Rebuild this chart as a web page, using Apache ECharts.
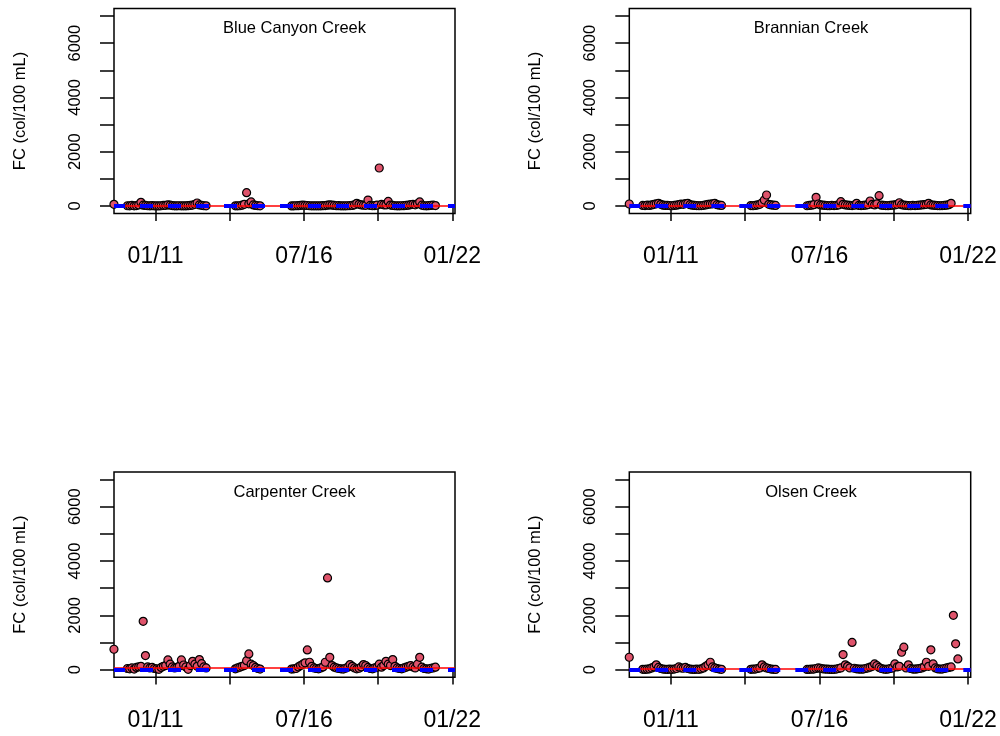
<!DOCTYPE html>
<html><head><meta charset="utf-8">
<script src="https://cdn.jsdelivr.net/npm/echarts@6/dist/echarts.min.js"></script>
<style>html,body{margin:0;padding:0;background:#fff}#c{width:1000px;height:736px}</style>
</head><body><div id="c"></div><script>
// sample months (YYYY-MM), shared by all four creeks
const sampleMonths = [
 '2009-06',
 '2009-12',
 '2010-01','2010-02','2010-03','2010-04','2010-05','2010-06','2010-07','2010-08','2010-09','2010-10','2010-11','2010-12',
 '2011-01','2011-02','2011-03','2011-04','2011-05','2011-06','2011-07','2011-08','2011-09','2011-10','2011-11','2011-12',
 '2012-01','2012-02','2012-03','2012-04','2012-05','2012-06','2012-07','2012-08','2012-09','2012-10','2012-11',
 '2013-12',
 '2014-01','2014-02','2014-03','2014-04','2014-05','2014-06','2014-07','2014-08','2014-09','2014-10','2014-11',
 '2016-01','2016-02','2016-03','2016-04','2016-05','2016-06','2016-07','2016-08','2016-09','2016-10','2016-11','2016-12',
 '2017-01','2017-02','2017-03','2017-04','2017-05','2017-06','2017-07','2017-08','2017-09','2017-10','2017-11','2017-12',
 '2018-01','2018-02','2018-03','2018-04','2018-05','2018-06','2018-07','2018-08','2018-09','2018-10','2018-11','2018-12',
 '2019-01','2019-02','2019-03','2019-04','2019-05','2019-06','2019-07','2019-08','2019-09','2019-10','2019-11','2019-12',
 '2020-01','2020-02','2020-03','2020-04','2020-05','2020-06','2020-07','2020-08','2020-09','2020-10','2020-11','2020-12',
 '2021-01','2021-02','2021-03','2021-04','2021-05','2021-06','2021-07','2021-08'
];
// FC (col/100 mL), one value per sample month; null = not sampled
const blueCanyon = [
 60,
 10,
 5,20,8,15,40,136,30,20,10,5,12,8,
 6,4,10,20,25,45,30,15,8,5,10,6,
 5,8,12,20,35,60,110,40,25,10,8,
 5,
 8,10,30,60,490,80,150,40,20,10,5,
 4,6,10,12,20,30,25,18,10,6,5,8,
 5,8,12,15,30,40,35,20,10,12,6,5,
 6,10,15,20,45,100,60,40,30,25,220,20,
 10,15,30,1400,60,45,40,170,35,20,10,8,
 6,10,12,20,30,50,60,45,80,150,30,10,
 8,12,20,30,15,null,null,null
];
const brannian = [
 74,
 20,
 15,30,20,40,60,80,100,60,30,20,25,15,
 10,20,30,50,70,60,90,100,50,30,20,15,
 10,15,25,40,60,70,80,100,50,30,20,
 15,
 10,20,40,60,120,220,405,60,40,30,20,
 10,20,30,50,320,74,40,30,20,15,10,20,
 15,20,40,160,60,40,30,20,15,30,100,20,
 15,20,30,50,184,60,40,80,380,30,20,15,
 10,20,30,40,60,120,50,30,20,15,10,20,
 15,20,30,40,50,60,100,40,30,20,15,10,
 15,20,30,50,100,null,null,null
];
const carpenter = [
 750,
 40,
 30,60,20,80,100,120,1780,515,100,60,80,40,
 30,10,80,120,150,357,200,100,60,80,120,357,
 170,100,10,150,306,200,120,368,220,100,60,
 30,
 60,90,120,150,330,578,200,150,80,40,20,
 20,30,40,100,150,200,250,725,270,120,60,40,
 30,60,100,270,3377,453,150,90,60,40,30,20,
 50,90,184,120,60,30,50,100,184,150,80,40,
 30,60,90,200,90,150,306,200,150,368,120,60,
 40,30,60,90,120,150,100,60,200,453,90,40,
 30,20,50,60,90,null,null,null
];
const olsen = [
 455,
 10,
 5,15,30,60,100,175,80,40,20,10,5,15,
 10,20,40,100,60,50,80,40,20,10,5,15,
 10,30,60,120,175,270,100,60,40,20,10,
 10,
 15,20,40,60,175,100,60,40,20,10,5,
 5,10,15,20,40,60,50,30,20,15,10,5,
 10,20,40,60,555,175,120,60,1000,50,30,20,
 15,20,40,60,90,120,210,150,80,40,20,10,
 20,40,60,210,100,120,640,825,60,175,40,20,
 15,30,40,60,100,270,120,730,210,60,30,20,
 20,40,60,80,100,2000,950,395
];
const panelNames = ['Blue Canyon Creek','Brannian Creek','Carpenter Creek','Olsen Creek'];
const panelValues = [blueCanyon, brannian, carpenter, olsen];
const refLevels = [10, 10, 85, 20];     // red reference line per creek
const baseLevel = 0;                   // blue dashed line
const yTickValues = [0,1000,2000,3000,4000,5000,6000,7000];
const yLabelValues = [0,2000,4000,6000];
const xTickValues = [2011, 2013.75, 2016.5, 2019.25, 2022];
const xLabelValues = [2011, 2016.5, 2022];
const xLabelTexts = ['01/11','07/16','01/22'];
const yTitle = 'FC (col/100 mL)';

const FONT = 'Liberation Sans, Arial, Helvetica, sans-serif';
const toYear = s => { const [y,m] = s.split('-').map(Number); return y + (m - 0.5) / 12; };
const xs = sampleMonths.map(toYear);

const gridPos = [
  {left:114, top:8.4, width:341, height:205.2},
  {left:629.3, top:8.4, width:341.4, height:205.2},
  {left:114, top:472, width:341, height:205.2},
  {left:629.3, top:472, width:341.4, height:205.2}
];
const titlePos = [[294.5,28.3],[811,28.3],[294.5,492.2],[811,492.2]];

const option = {
  animation:false,
  backgroundColor:'#fff',
  grid: gridPos.map(g => Object.assign({show:true, borderColor:'#000', borderWidth:1.5, backgroundColor:'transparent', containLabel:false}, g)),
  xAxis: gridPos.map((g,i) => ({
    type:'value', gridIndex:i, min:2009.46, max:2022.1,
    splitLine:{show:false}, axisLine:{show:false},
    axisTick:{show:true, inside:false, length:15, customValues:xTickValues, lineStyle:{color:'#000', width:1.5}},
    axisLabel:{show:true, customValues:xLabelValues, margin:32, fontSize:23, fontFamily:FONT, color:'#000',
      formatter: v => { const k = xLabelValues.findIndex(t => Math.abs(t - v) < 1e-6); return k >= 0 ? xLabelTexts[k] : ''; }}
  })),
  yAxis: gridPos.map((g,i) => ({
    type:'value', gridIndex:i, min:-280, max:7280,
    name:yTitle, nameLocation:'middle', nameRotate:90, nameGap:85,
    nameTextStyle:{fontSize:16.5, fontFamily:FONT, color:'#000'},
    splitLine:{show:false}, axisLine:{show:false},
    axisTick:{show:true, inside:false, length:14, customValues:yTickValues, lineStyle:{color:'#000', width:1.5}},
    axisLabel:{show:true, customValues:yLabelValues, rotate:90, margin:30, fontSize:16.5, fontFamily:FONT, color:'#000',
      formatter: v => String(v)}
  })),
  graphic: panelNames.map((n,i) => ({
    type:'text', x:titlePos[i][0], y:titlePos[i][1], silent:true,
    style:{text:n, fontSize:16.5, fontFamily:FONT, fill:'#000', align:'center', verticalAlign:'middle'}
  })),
  series: panelValues.map((vals,i) => ({
    type:'scatter', xAxisIndex:i, yAxisIndex:i, clip:true,
    symbol:'circle', symbolSize:8,
    itemStyle:{color:'#DF536B', borderColor:'#000', borderWidth:1.2, opacity:1},
    data: xs.map((x,k) => vals[k] == null ? null : [x, vals[k]]).filter(d => d),
    markLine:{
      silent:true, symbol:['none','none'], label:{show:false}, animation:false,
      data:[
        {yAxis:refLevels[i], lineStyle:{color:'#FF0000', width:1.5, type:'solid'}},
        {yAxis:baseLevel, lineStyle:{color:'#0000FF', width:4, type:[13,15], dashOffset:2}}
      ]
    }
  }))
};
const chart = echarts.init(document.getElementById('c'), null, {renderer:'canvas'});
chart.setOption(option);
</script></body></html>
